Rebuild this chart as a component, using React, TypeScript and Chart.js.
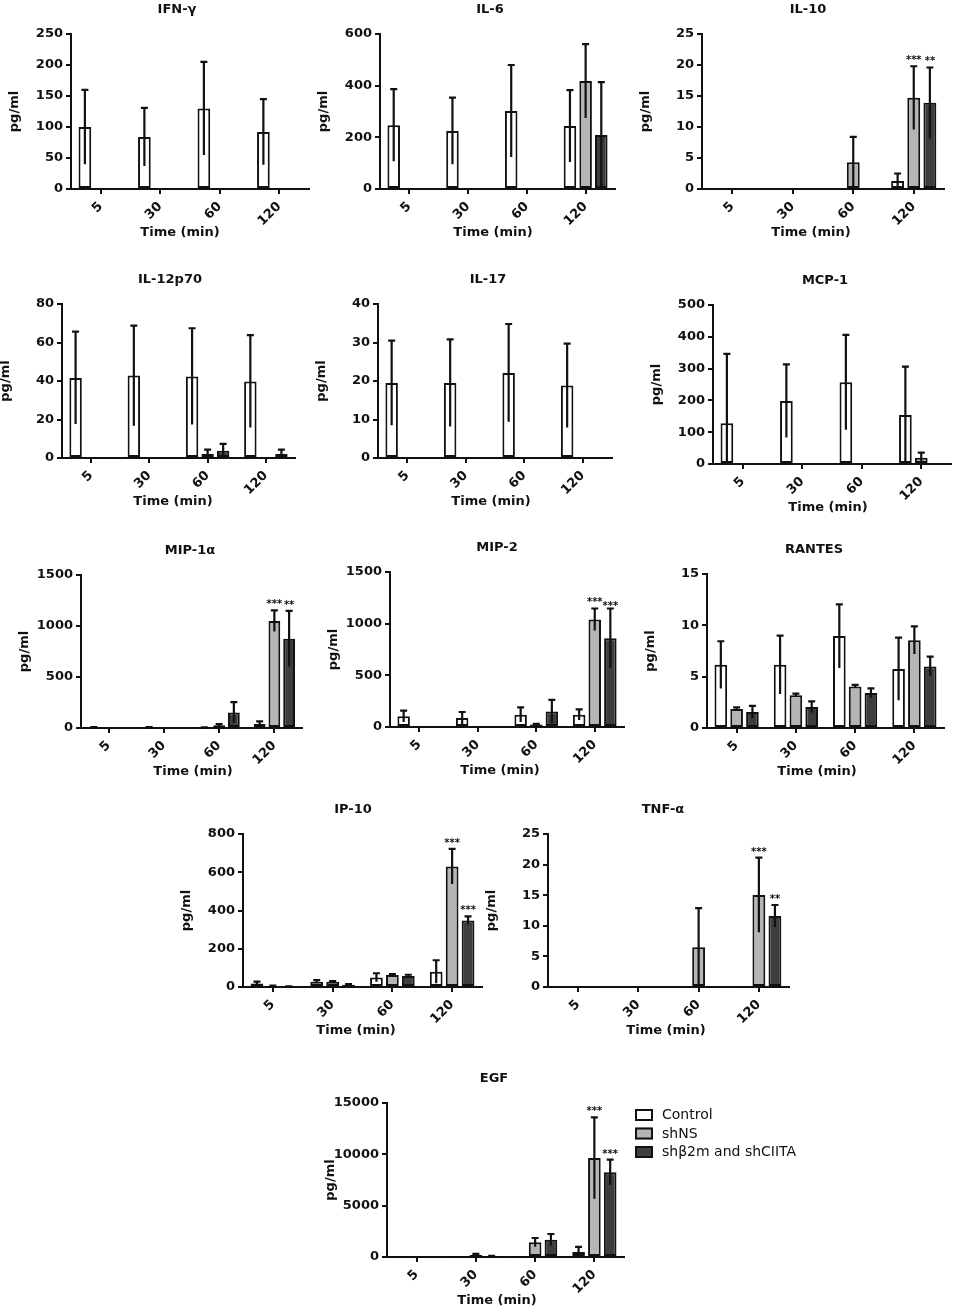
import React, { useEffect, useRef } from "react";
import { Chart, registerables } from "chart.js";

Chart.register(...registerables);

if (typeof document !== "undefined") {
  document.body.style.margin = "0";
  document.body.style.background = "#ffffff";
}

const INK = "#111111";
const FONT = "'DejaVu Sans', 'Liberation Sans', Arial, sans-serif";

// ---------- shared data ----------
const categories = ["5", "30", "60", "120"];
const seriesNames = ["Control", "shNS", "shβ2m and shCIITA"];
const seriesFills = ["#ffffff", "#b5b5b5", "#3d3d3d"];
const yTitle = "pg/ml";
const xTitle = "Time (min)";

type Star = [number, number, string];

// ---------- IFN-γ ----------
const ifnGammaTicks = [0, 50, 100, 150, 200, 250];
const ifnGammaMean = [[100, 84, 130, 92], [0, 0, 0, 0], [0, 0, 0, 0]];
const ifnGammaErr = [[60, 47, 75, 53], [0, 0, 0, 0], [0, 0, 0, 0]];
const ifnGammaStars: Star[] = [];

// ---------- IL-6 ----------
const il6Ticks = [0, 200, 400, 600];
const il6Mean = [[247, 225, 302, 244], [0, 0, 0, 418], [0, 0, 0, 209]];
const il6Err = [[140, 129, 178, 139], [0, 0, 0, 143], [0, 0, 0, 205]];
const il6Stars: Star[] = [];

// ---------- IL-10 ----------
const il10Ticks = [0, 5, 10, 15, 20, 25];
const il10Mean = [[0, 0, 0, 1.3], [0, 0, 4.3, 14.7], [0, 0, 0, 13.9]];
const il10Err = [[0, 0, 0, 1.2], [0, 0, 4.1, 5.1], [0, 0, 0, 5.7]];
const il10Stars: Star[] = [[1, 3, "***"], [2, 3, "**"]];

// ---------- IL-12p70 ----------
const il12Ticks = [0, 20, 40, 60, 80];
const il12Mean = [[41.6, 42.8, 42.4, 39.8], [0, 0, 2.1, 0], [0, 0, 3.8, 2.1]];
const il12Err = [[24, 26, 25, 24], [0, 0, 2.2, 0], [0, 0, 3.5, 2.2]];
const il12Stars: Star[] = [];

// ---------- IL-17 ----------
const il17Ticks = [0, 10, 20, 30, 40];
const il17Mean = [[19.5, 19.5, 22.1, 18.8], [0, 0, 0, 0], [0, 0, 0, 0]];
const il17Err = [[11, 11.3, 12.7, 10.9], [0, 0, 0, 0], [0, 0, 0, 0]];
const il17Stars: Star[] = [];

// ---------- MCP-1 ----------
const mcp1Ticks = [0, 100, 200, 300, 400, 500];
const mcp1Mean = [[128, 198, 257, 154], [0, 0, 0, 20], [0, 0, 0, 0]];
const mcp1Err = [[218, 115, 149, 152], [0, 0, 0, 16], [0, 0, 0, 0]];
const mcp1Stars: Star[] = [];

// ---------- MIP-1α ----------
const mip1aTicks = [0, 500, 1000, 1500];
const mip1aMean = [[5, 5, 4, 40], [0, 0, 28, 1050], [0, 0, 153, 874]];
const mip1aErr = [[3, 3, 2, 25], [0, 0, 10, 104], [0, 0, 101, 274]];
const mip1aStars: Star[] = [[1, 3, "***"], [2, 3, "**"]];

// ---------- MIP-2 ----------
const mip2Ticks = [0, 500, 1000, 1500];
const mip2Mean = [[103, 87, 119, 119], [0, 0, 25, 1041], [0, 0, 151, 858]];
const mip2Err = [[55, 58, 71, 51], [0, 0, 6, 106], [0, 0, 112, 289]];
const mip2Stars: Star[] = [[1, 3, "***"], [2, 3, "***"]];

// ---------- RANTES ----------
const rantesTicks = [0, 5, 10, 15];
const rantesMean = [[6.15, 6.15, 8.95, 5.75], [1.85, 3.2, 4.05, 8.55], [1.55, 2.05, 3.4, 6.0]];
const rantesErr = [[2.3, 2.85, 3.1, 3.05], [0.15, 0.15, 0.15, 1.35], [0.6, 0.55, 0.45, 0.95]];
const rantesStars: Star[] = [];

// ---------- IP-10 ----------
const ip10Ticks = [0, 200, 400, 600, 800];
const ip10Mean = [[18, 28, 50, 80], [5, 27, 63, 630], [3, 12, 58, 348]];
const ip10Err = [[10, 8, 22, 60], [2, 4, 5, 92], [1, 3, 6, 21]];
const ip10Stars: Star[] = [[1, 3, "***"], [2, 3, "***"]];

// ---------- TNF-α ----------
const tnfTicks = [0, 5, 10, 15, 20, 25];
const tnfMean = [[0, 0, 0, 0.1], [0, 0, 6.5, 15.05], [0.1, 0, 0.1, 11.6]];
const tnfErr = [[0, 0, 0, 0], [0, 0, 6.4, 6.1], [0, 0, 0, 1.8]];
const tnfStars: Star[] = [[1, 3, "***"], [2, 3, "**"]];

// ---------- EGF ----------
const egfTicks = [0, 5000, 10000, 15000];
const egfMean = [[40, 40, 40, 490], [0, 200, 1430, 9640], [0, 80, 1690, 8250]];
const egfErr = [[0, 0, 0, 490], [0, 100, 420, 3960], [0, 40, 550, 1230]];
const egfStars: Star[] = [[1, 3, "***"], [2, 3, "***"]];

// ---------- layout (page pixels) ----------
interface Box { axisX: number; top: number; zero: number; xEnd: number; titleX: number }
interface PanelSpec {
  title: string;
  ticks: number[];
  means: number[][];
  errors: number[][];
  stars: Star[];
  box: Box;
  legend?: boolean;
}

const panels: PanelSpec[] = [
  { title: "IFN-γ", ticks: ifnGammaTicks, means: ifnGammaMean, errors: ifnGammaErr, stars: ifnGammaStars,
    box: { axisX: 71, top: 34, zero: 189, xEnd: 309, titleX: 177 } },
  { title: "IL-6", ticks: il6Ticks, means: il6Mean, errors: il6Err, stars: il6Stars,
    box: { axisX: 380, top: 34, zero: 189, xEnd: 615, titleX: 490 } },
  { title: "IL-10", ticks: il10Ticks, means: il10Mean, errors: il10Err, stars: il10Stars,
    box: { axisX: 702, top: 34, zero: 189, xEnd: 944, titleX: 808 } },
  { title: "IL-12p70", ticks: il12Ticks, means: il12Mean, errors: il12Err, stars: il12Stars,
    box: { axisX: 62, top: 304, zero: 458, xEnd: 295, titleX: 170 } },
  { title: "IL-17", ticks: il17Ticks, means: il17Mean, errors: il17Err, stars: il17Stars,
    box: { axisX: 378, top: 304, zero: 458, xEnd: 612, titleX: 488 } },
  { title: "MCP-1", ticks: mcp1Ticks, means: mcp1Mean, errors: mcp1Err, stars: mcp1Stars,
    box: { axisX: 713, top: 305, zero: 464, xEnd: 951, titleX: 825 } },
  { title: "MIP-1α", ticks: mip1aTicks, means: mip1aMean, errors: mip1aErr, stars: mip1aStars,
    box: { axisX: 81, top: 575, zero: 728, xEnd: 302, titleX: 190 } },
  { title: "MIP-2", ticks: mip2Ticks, means: mip2Mean, errors: mip2Err, stars: mip2Stars,
    box: { axisX: 390, top: 572, zero: 727, xEnd: 624, titleX: 497 } },
  { title: "RANTES", ticks: rantesTicks, means: rantesMean, errors: rantesErr, stars: rantesStars,
    box: { axisX: 707, top: 574, zero: 728, xEnd: 944, titleX: 814 } },
  { title: "IP-10", ticks: ip10Ticks, means: ip10Mean, errors: ip10Err, stars: ip10Stars,
    box: { axisX: 243, top: 834, zero: 987, xEnd: 482, titleX: 353 } },
  { title: "TNF-α", ticks: tnfTicks, means: tnfMean, errors: tnfErr, stars: tnfStars,
    box: { axisX: 548, top: 834, zero: 987, xEnd: 789, titleX: 663 } },
  { title: "EGF", ticks: egfTicks, means: egfMean, errors: egfErr, stars: egfStars,
    box: { axisX: 387, top: 1103, zero: 1257, xEnd: 624, titleX: 494 }, legend: true },
];

const Y_AXIS_W = 75;
const TOP_PAD = 40;
const X_AXIS_H = 58;

function Panel({ spec }: { spec: PanelSpec }) {
  const ref = useRef<HTMLCanvasElement | null>(null);
  const { axisX, top, zero, xEnd, titleX } = spec.box;
  const left = axisX - Y_AXIS_W;
  const ctop = top - TOP_PAD;
  const right = spec.legend ? 820 : Math.min(xEnd + 4, 955);
  const bottom = zero + X_AXIS_H;
  const W = right - left;
  const H = bottom - ctop;

  useEffect(() => {
    const canvas = ref.current;
    if (!canvas) return;

    const annot = {
      id: "annot",
      afterDatasetsDraw(chart: any) {
        const ctx = chart.ctx as CanvasRenderingContext2D;
        const ys = chart.scales.y;
        ctx.save();
        ctx.strokeStyle = INK;
        ctx.lineWidth = 2.2;
        ctx.lineCap = "butt";
        spec.errors.forEach((errs, di) => {
          const meta = chart.getDatasetMeta(di);
          errs.forEach((e, ci) => {
            if (!e) return;
            const m = spec.means[di][ci];
            const bar = meta.data[ci];
            const x = bar.x;
            const yTop = ys.getPixelForValue(m + e);
            const yBot = ys.getPixelForValue(Math.max(m - e, 0));
            ctx.beginPath();
            ctx.moveTo(x, yBot);
            ctx.lineTo(x, yTop);
            ctx.moveTo(x - 3.5, yTop);
            ctx.lineTo(x + 3.5, yTop);
            ctx.stroke();
          });
        });
        // significance stars; a label that would collide with its neighbour sits a little lower
        ctx.fillStyle = INK;
        ctx.font = `bold 10px ${FONT}`;
        ctx.textAlign = "center";
        ctx.textBaseline = "alphabetic";
        const placed: { x0: number; x1: number; y: number }[] = [];
        spec.stars.forEach(([di, ci, txt]) => {
          const bar = chart.getDatasetMeta(di).data[ci];
          const yTop = ys.getPixelForValue(spec.means[di][ci] + spec.errors[di][ci]);
          const w = ctx.measureText(txt).width;
          let y = yTop - 3;
          const x0 = bar.x - w / 2;
          const x1 = bar.x + w / 2;
          const hit = placed.some((p) => x0 < p.x1 + 1 && x1 > p.x0 - 1 && Math.abs(p.y - y) < 6);
          if (hit) y += 4;
          placed.push({ x0, x1, y });
          ctx.fillText(txt, bar.x, y);
        });
        ctx.restore();
      },
      afterDraw(chart: any) {
        const ctx = chart.ctx as CanvasRenderingContext2D;
        ctx.save();
        ctx.fillStyle = INK;
        ctx.textAlign = "center";
        ctx.textBaseline = "middle";
        ctx.font = `bold 13px ${FONT}`;
        ctx.fillText(spec.title, titleX - left, top - 24 - ctop);
        ctx.fillText(xTitle, titleX + 3 - left, zero + 44 - ctop);
        ctx.save();
        ctx.translate(axisX - 56 - left, (top + zero) / 2 - ctop);
        ctx.rotate(-Math.PI / 2);
        ctx.fillText(yTitle, 0, 0);
        ctx.restore();

        if (spec.legend) {
          const lx = 635 - left;
          ctx.font = `14px ${FONT}`;
          ctx.textAlign = "left";
          chart.data.datasets.forEach((ds: any, i: number) => {
            const cy = 1115 + i * 18.5 - ctop;
            ctx.fillStyle = ds.backgroundColor;
            ctx.fillRect(lx, cy - 6, 18, 12);
            ctx.strokeStyle = INK;
            ctx.lineWidth = 2;
            ctx.strokeRect(lx + 1, cy - 5, 16, 10);
            ctx.fillStyle = INK;
            ctx.fillText(ds.label, lx + 27, cy + 0.5);
          });
        }
        ctx.restore();
      },
    };

    const tickFont = { family: FONT, size: 13, weight: "bold" as const };
    const chart = new Chart(canvas, {
      type: "bar",
      data: {
        labels: categories,
        datasets: seriesNames.map((name, i) => ({
          label: name,
          data: spec.means[i],
          backgroundColor: seriesFills[i],
          borderColor: INK,
          borderWidth: 2,
          borderSkipped: false,
          categoryPercentage: 0.8,
          barPercentage: 0.8,
        })),
      },
      options: {
        responsive: false,
        animation: false,
        devicePixelRatio: 1,
        layout: { padding: { top: TOP_PAD, right: right - xEnd, left: 0, bottom: 0 } },
        plugins: {
          legend: { display: false },
          tooltip: { enabled: false },
          title: { display: false },
        },
        scales: {
          x: {
            afterFit: (s: any) => { s.height = X_AXIS_H; },
            grid: { display: true, drawOnChartArea: false, offset: false, tickLength: 5, color: INK, lineWidth: 2 },
            border: { display: true, color: INK, width: 2 },
            ticks: { color: INK, font: tickFont, maxRotation: 45, minRotation: 45, autoSkip: false, padding: 5 },
          },
          y: {
            min: 0,
            max: spec.ticks[spec.ticks.length - 1],
            afterFit: (s: any) => { s.width = Y_AXIS_W; },
            afterBuildTicks: (s: any) => { s.ticks = spec.ticks.map((v) => ({ value: v })); },
            grid: { display: true, drawOnChartArea: false, tickLength: 5, color: INK, lineWidth: 2 },
            border: { display: true, color: INK, width: 2 },
            ticks: { color: INK, font: tickFont, padding: 3, callback: (v: any) => String(v) },
          },
        },
      },
      plugins: [annot],
    } as any);
    return () => chart.destroy();
  }, []);

  return (
    <canvas
      ref={ref}
      width={W}
      height={H}
      style={{ position: "absolute", left, top: ctop, width: W, height: H }}
    />
  );
}

export default function App() {
  return (
    <div style={{ position: "relative", width: 955, height: 1315, overflow: "hidden", background: "#fff" }}>
      {panels.map((p) => (
        <Panel key={p.title} spec={p} />
      ))}
    </div>
  );
}
